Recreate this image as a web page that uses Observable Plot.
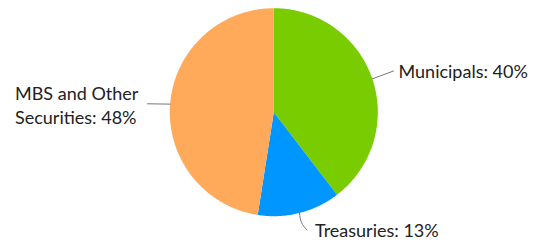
<!DOCTYPE html>
<html>
<head>
<meta charset="utf-8">
<script src="https://cdn.jsdelivr.net/npm/d3@7"></script>
<script src="https://cdn.jsdelivr.net/npm/@observablehq/plot@0.6"></script>
<style>
  html, body { margin: 0; padding: 0; background: #fff; }
  #chart svg { display: block; }
</style>
</head>
<body>
<div id="chart"></div>
<script>
// ---- data ----
const categories = ["Municipals", "Treasuries", "MBS and Other Securities"];
const shares = [40, 13, 48];
const labelTexts = ["Municipals: 40%", "Treasuries: 13%", "MBS and Other\nSecurities: 48%"];
const sliceColors = ["#78cc00", "#0096ff", "#ffaa5a"];

// ---- layout (pixels) ----
const W = 548, H = 244;
const cx = 273.3, cy = 111.7, R = 104;
const toX = px => (px - cx) / R;
const toY = py => (cy - py) / R;

const rows = categories.map((c, i) => ({cat: c, share: shares[i], label: labelTexts[i]}));
const arcs = d3.pie().sort(null).value(d => d.share)(rows);

// slice polygons in unit-circle data space
const slicePts = [];
for (const a of arcs) {
  slicePts.push({cat: a.data.cat, x: 0, y: 0});
  const n = Math.max(8, Math.ceil((a.endAngle - a.startAngle) / 0.01));
  for (let k = 0; k <= n; k++) {
    const t = a.startAngle + (a.endAngle - a.startAngle) * k / n;
    slicePts.push({cat: a.data.cat, x: Math.sin(t), y: Math.cos(t)});
  }
  slicePts.push({cat: a.data.cat, x: 0, y: 0});
}

// connectors: start at slice mid-angle on the rim
const mid = a => (a.startAngle + a.endAngle) / 2;
const rim = a => ({x: Math.sin(mid(a)), y: Math.cos(mid(a))});
const connEnds = {
  "Municipals": [[393, 70.5]],
  "Treasuries": [[301, 222], [306.5, 229.5]],
  "MBS and Other Securities": [[147, 103.3]]
};
const connPts = [];
for (const a of arcs) {
  const s = rim(a);
  connPts.push({cat: a.data.cat, x: s.x, y: s.y});
  for (const [px, py] of connEnds[a.data.cat]) connPts.push({cat: a.data.cat, x: toX(px), y: toY(py)});
}

const labelPos = {
  "Municipals": {x: 398, y: 70.3},
  "Treasuries": {x: 314.5, y: 228.7},
  "MBS and Other Securities": {x: 14.5, y: 104.3}
};
const labelRows = rows.map(r => ({...r, x: toX(labelPos[r.cat].x), y: toY(labelPos[r.cat].y)}));

const chart = Plot.plot({
  width: W,
  height: H,
  margin: 0,
  style: {fontFamily: "Lato, 'Open Sans', sans-serif", background: "#fff"},
  x: {domain: [-1, 1], range: [cx - R, cx + R], axis: null},
  y: {domain: [-1, 1], range: [cy + R, cy - R], axis: null},
  color: {domain: categories, range: sliceColors},
  marks: [
    Plot.line(slicePts, {x: "x", y: "y", z: "cat", fill: "cat", stroke: "none", curve: "linear"}),
    Plot.line(connPts, {x: "x", y: "y", z: "cat", stroke: "#777", strokeWidth: 1, curve: "natural"}),
    Plot.text(labelRows, {
      x: "x", y: "y", text: "label",
      textAnchor: "start",
      lineAnchor: "middle",
      lineHeight: 1.333,
      fontSize: 18,
      fill: "#222"
    })
  ]
});
document.getElementById("chart").appendChild(chart);
</script>
</body>
</html>
